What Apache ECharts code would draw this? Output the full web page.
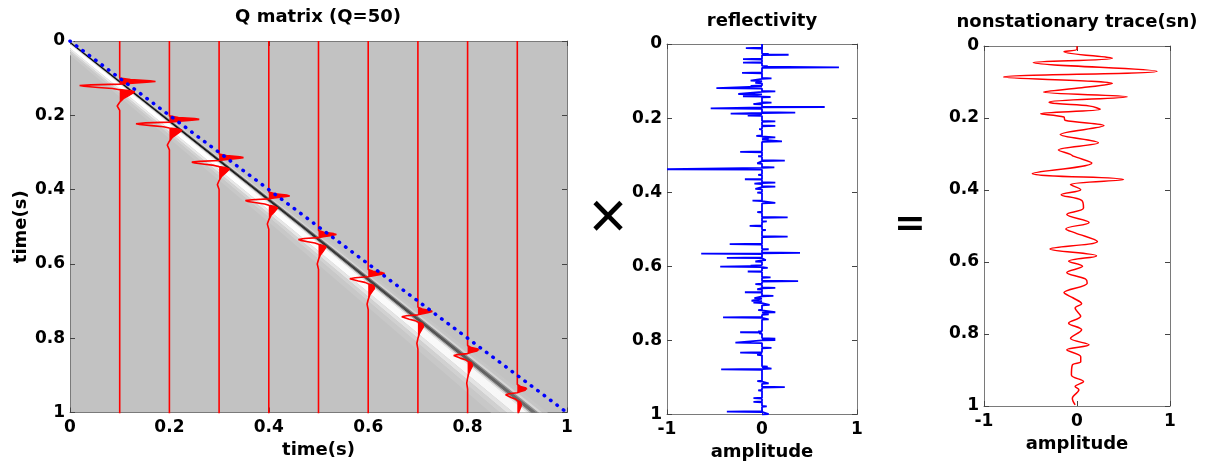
<!DOCTYPE html>
<html>
<head>
<meta charset="utf-8">
<script src="https://cdn.jsdelivr.net/npm/echarts@6/dist/echarts.min.js"></script>
<style>
html, body { margin: 0; background: #fff; }
#main { width: 1208px; height: 468px; }
</style>
</head>
<body>
<div id="main"></div>
<script>
// --- Q matrix panel: wavelet columns ---
var traceX = [0.1, 0.2, 0.3, 0.4, 0.5, 0.6, 0.7, 0.8, 0.9];
var tracePeakT = [0.109, 0.211, 0.314, 0.417, 0.521, 0.626, 0.728, 0.832, 0.937];
var traceAmp = [0.072, 0.060, 0.049, 0.042, 0.036, 0.033, 0.029, 0.025, 0.021];
var traceStretch = [1.0, 1.05, 1.1, 1.15, 1.2, 1.25, 1.3, 1.35, 1.4];
// wavelet shape (time after first peak, relative amplitude)
var waveTau = [-0.009, -0.005, -0.002, 0, 0.002, 0.005, 0.007, 0.009, 0.011, 0.013, 0.016, 0.019, 0.022, 0.025, 0.028, 0.032, 0.038, 0.046, 0.056, 0.066, 0.078];
var waveAmp = [0, 0.3, 0.85, 1, 0.75, 0.25, 0, -0.8, -1.12, -1.0, -0.6, -0.2, 0, 0.3, 0.42, 0.38, 0.25, 0.1, 0, -0.07, 0];
var diagLine = [[0, 0], [1, 1]];

// diagonal band of the matrix image (lag below diagonal at three times)
var bandT = [-0.05, 0.5, 1.05];
var bandLag = [0.001, 0.032, 0.070];
var bandUnit = [0.0028, 0.006, 0.0095];
var bandEdges = [-3.0, -1.8, -1.0, -0.6, 0.6, 1.0, 1.5, 4.5, 6.0, 7.5, 9.5];
var bandTop = ['#c6c6c6', '#d4d4d4', '#555555', '#000000', '#888888', '#f0f0f0', '#ffffff', '#ececec', '#d6d6d6', '#c9c9c9'];
var bandMid = ['#c6c6c6', '#d4d4d4', '#606060', '#1a1a1a', '#999999', '#eeeeee', '#ffffff', '#e8e8e8', '#d3d3d3', '#c8c8c8'];
var bandBot = ['#c5c5c5', '#d6d6d6', '#9a9a9a', '#767676', '#aaaaaa', '#e2e2e2', '#f6f6f6', '#e2e2e2', '#d0d0d0', '#c8c8c8'];

// --- reflectivity spikes [time, amplitude] ---
var reflSpikes = [[0.011,-0.17],[0.027,0.07],[0.029,0.28],[0.041,-0.20],[0.050,-0.20],[0.060,0.06],[0.063,0.81],[0.078,-0.21],[0.093,0.10],[0.099,-0.12],[0.105,-0.07],[0.113,-0.12],[0.119,-0.48],[0.128,0.14],[0.135,-0.25],[0.141,-0.20],[0.143,0.09],[0.158,0.10],[0.162,-0.09],[0.170,0.66],[0.174,-0.54],[0.185,0.35],[0.188,-0.33],[0.193,-0.15],[0.209,0.14],[0.221,0.14],[0.230,-0.03],[0.248,-0.06],[0.252,0.14],[0.257,0.07],[0.263,0.21],[0.291,-0.23],[0.303,-0.04],[0.315,0.24],[0.322,-0.05],[0.333,0.13],[0.338,-1.0],[0.353,-0.04],[0.365,-0.18],[0.374,0.14],[0.377,-0.08],[0.385,0.14],[0.391,-0.07],[0.401,-0.05],[0.423,-0.10],[0.429,0.14],[0.454,-0.05],[0.468,0.27],[0.479,0.05],[0.491,-0.13],[0.502,0.04],[0.520,0.27],[0.540,-0.34],[0.554,0.07],[0.564,0.40],[0.566,-0.64],[0.577,-0.37],[0.583,0.04],[0.587,-0.07],[0.598,-0.12],[0.601,-0.44],[0.604,0.06],[0.614,-0.15],[0.630,0.09],[0.640,0.38],[0.648,-0.07],[0.658,0.14],[0.662,-0.05],[0.670,-0.18],[0.680,0.12],[0.686,-0.08],[0.693,-0.11],[0.698,-0.09],[0.704,0.08],[0.718,-0.04],[0.724,0.14],[0.730,0.07],[0.738,-0.41],[0.743,0.07],[0.776,-0.04],[0.778,-0.23],[0.781,-0.03],[0.795,0.14],[0.799,0.14],[0.806,-0.28],[0.820,0.10],[0.833,-0.23],[0.839,-0.05],[0.871,0.06],[0.876,0.10],[0.878,-0.43],[0.910,-0.05],[0.916,0.07],[0.926,0.24],[0.935,-0.04],[0.956,-0.09],[0.966,-0.09],[0.978,0.05],[0.992,-0.37],[0.999,0.07]];

// --- nonstationary trace [amplitude, time] ---
var snTrace = [[0,0],[0,0.009],[-0.14,0.016],[0.38,0.034],[-0.47,0.046],[0.86,0.070],[-0.79,0.086],[0.38,0.104],[0.05,0.116],[-0.36,0.128],[0.54,0.141],[-0.30,0.156],[-0.22,0.160],[0.14,0.167],[0.25,0.176],[-0.39,0.188],[-0.14,0.197],[-0.13,0.206],[0.29,0.221],[-0.18,0.246],[0.23,0.269],[-0.20,0.289],[-0.07,0.301],[-0.04,0.306],[0.16,0.325],[-0.48,0.354],[0.50,0.371],[-0.07,0.385],[0.04,0.399],[-0.17,0.413],[0.05,0.429],[0.07,0.450],[-0.11,0.468],[0.13,0.490],[-0.12,0.508],[-0.02,0.519],[0.22,0.543],[-0.29,0.564],[0.21,0.583],[-0.09,0.598],[0.06,0.612],[-0.11,0.629],[0.09,0.647],[0.11,0.659],[-0.14,0.685],[-0.04,0.700],[0.05,0.716],[-0.02,0.728],[0.04,0.751],[-0.09,0.770],[0.05,0.788],[-0.07,0.812],[0.13,0.830],[-0.11,0.844],[0.04,0.863],[0.04,0.877],[-0.05,0.886],[-0.06,0.914],[0.07,0.932],[-0.02,0.946],[0.02,0.955],[-0.05,0.979],[-0.02,0.997]];

var FONT = 'DejaVu Sans';
var frameColor = '#7a7a7a';

// build wavelet traces and their positive lobes
var traceSeries = [];
var lobes = [];
traceX.forEach(function (x0, i) {
    var pts = [[x0, 0]];
    var cur = null;
    waveTau.forEach(function (tau, k) {
        var p = [x0 + traceAmp[i] * waveAmp[k], tracePeakT[i] + traceStretch[i] * tau];
        pts.push(p);
        if (waveAmp[k] > 0) {
            if (!cur) cur = [[x0, tracePeakT[i] + traceStretch[i] * waveTau[k - 1]]];
            cur.push(p);
        } else if (cur) {
            cur.push([x0, p[1]]);
            lobes.push(cur);
            cur = null;
        }
    });
    pts.push([x0, 1.2]);
    traceSeries.push({
        type: 'line', xAxisIndex: 0, yAxisIndex: 0, data: pts,
        showSymbol: false, z: 4,
        lineStyle: { color: '#ff0000', width: 1.6 }
    });
});

// reflectivity as a sampled line going out to each spike and back
var reflLine = [[0, 0]];
reflSpikes.forEach(function (s) {
    reflLine.push([0, s[0] - 0.0012], [s[1], s[0]], [0, s[0] + 0.0012]);
});
reflLine.push([0, 1]);

function clipRect(params) {
    var c = params.coordSys;
    return { type: 'rect', shape: { x: c.x, y: c.y, width: c.width, height: c.height } };
}

var labelStyle = { color: '#000', fontSize: 17, fontWeight: 'bold', fontFamily: FONT };
var nameStyle = { color: '#000', fontSize: 18, fontWeight: 'bold', fontFamily: FONT };

function xAxes(grid, min, max, interval, name, gap) {
    var base = {
        gridIndex: grid, type: 'value', min: min, max: max, interval: interval,
        splitLine: { show: false },
        axisLine: { show: true, onZero: false, lineStyle: { color: frameColor, width: 1 } },
        axisTick: { inside: true, length: 5, lineStyle: { color: '#444' } }
    };
    return [
        Object.assign({}, base, { position: 'bottom', name: name, nameLocation: 'middle', nameGap: gap,
            nameTextStyle: nameStyle, axisLabel: Object.assign({ margin: 7 }, labelStyle) }),
        Object.assign({}, base, { position: 'top', axisLabel: { show: false } })
    ];
}

function yAxes(grid, name) {
    var base = {
        gridIndex: grid, type: 'value', min: 0, max: 1, interval: 0.2, inverse: true,
        splitLine: { show: false },
        axisLine: { show: true, onZero: false, lineStyle: { color: frameColor, width: 1 } },
        axisTick: { inside: true, length: 5, lineStyle: { color: '#444' } }
    };
    var left = Object.assign({}, base, { position: 'left', axisLabel: Object.assign({ margin: 5 }, labelStyle) });
    if (name) {
        left.name = name; left.nameLocation = 'middle'; left.nameGap = 40; left.nameTextStyle = nameStyle;
    }
    return [left, Object.assign({}, base, { position: 'right', axisLabel: { show: false } })];
}

function textEl(x, y, text, font) {
    return { type: 'text', x: x, y: y, style: { text: text, font: font, textAlign: 'center', textVerticalAlign: 'middle', align: 'center', verticalAlign: 'middle', fill: '#000' } };
}

var chart = echarts.init(document.getElementById('main'));
chart.setOption({
    animation: false,
    grid: [
        { left: 70, top: 41, width: 497, height: 371.5, show: true, backgroundColor: '#c2c2c2', borderWidth: 0 },
        { left: 667, top: 44, width: 190, height: 370.5 },
        { left: 984, top: 46, width: 186, height: 360 }
    ],
    xAxis: [].concat(
        xAxes(0, 0, 1, 0.2, 'time(s)', 27),
        xAxes(1, -1, 1, 1, 'amplitude', 29),
        xAxes(2, -1, 1, 1, 'amplitude', 28)
    ),
    yAxis: [].concat(yAxes(0, 'time(s)'), yAxes(1), yAxes(2)),
    graphic: [
        textEl(318, 17, 'Q matrix (Q=50)', 'bold 18px "DejaVu Sans"'),
        textEl(762, 21, 'reflectivity', 'bold 18px "DejaVu Sans"'),
        textEl(1077, 22, 'nonstationary trace(sn)', 'bold 18px "DejaVu Sans"'),
        textEl(608, 220, '×', '66px "Liberation Sans"'),
        textEl(910, 225, '=', 'bold 38px "DejaVu Sans"')
    ],
    series: [
        {
            // matrix band drawn as graded stripes along the diagonal
            type: 'custom', xAxisIndex: 0, yAxisIndex: 0, z: 1, silent: true,
            data: bandTop.map(function (c, i) { return i; }),
            renderItem: function (params, api) {
                var i = params.dataIndex, pts = [], k, lag;
                for (k = 0; k < bandT.length; k++) {
                    lag = bandLag[k] + bandEdges[i] * bandUnit[k];
                    pts.push(api.coord([bandT[k] - lag, bandT[k]]));
                }
                for (k = bandT.length - 1; k >= 0; k--) {
                    lag = bandLag[k] + bandEdges[i + 1] * bandUnit[k];
                    pts.push(api.coord([bandT[k] - lag, bandT[k]]));
                }
                return {
                    type: 'group', clipPath: clipRect(params),
                    children: [{
                        type: 'polygon', shape: { points: pts },
                        style: { fill: new echarts.graphic.LinearGradient(0, 0, 1, 1, [
                            { offset: 0, color: bandTop[i] },
                            { offset: 0.35, color: bandMid[i] },
                            { offset: 1, color: bandBot[i] }]) }
                    }]
                };
            }
        },
        {
            // filled positive lobes of the wavelets
            type: 'custom', xAxisIndex: 0, yAxisIndex: 0, z: 3, silent: true,
            data: lobes.map(function (l, i) { return i; }),
            renderItem: function (params, api) {
                var pts = lobes[params.dataIndex].map(function (p) { return api.coord(p); });
                return {
                    type: 'group', clipPath: clipRect(params),
                    children: [{ type: 'polygon', shape: { points: pts }, style: { fill: '#ff0000' } }]
                };
            }
        }
    ].concat(traceSeries, [
        {
            type: 'line', xAxisIndex: 0, yAxisIndex: 0, data: diagLine, showSymbol: false, z: 5,
            lineStyle: { color: '#0000ff', width: 3.5, type: [0.5, 7.5], cap: 'round' }
        },
        {
            type: 'line', xAxisIndex: 2, yAxisIndex: 2, data: reflLine, showSymbol: false,
            lineStyle: { color: '#0000ff', width: 1.8 }
        },
        {
            type: 'line', xAxisIndex: 4, yAxisIndex: 4, data: snTrace, showSymbol: false, smooth: 0.35,
            lineStyle: { color: '#ff0000', width: 1.5 }
        }
    ])
});
</script>
</body>
</html>
